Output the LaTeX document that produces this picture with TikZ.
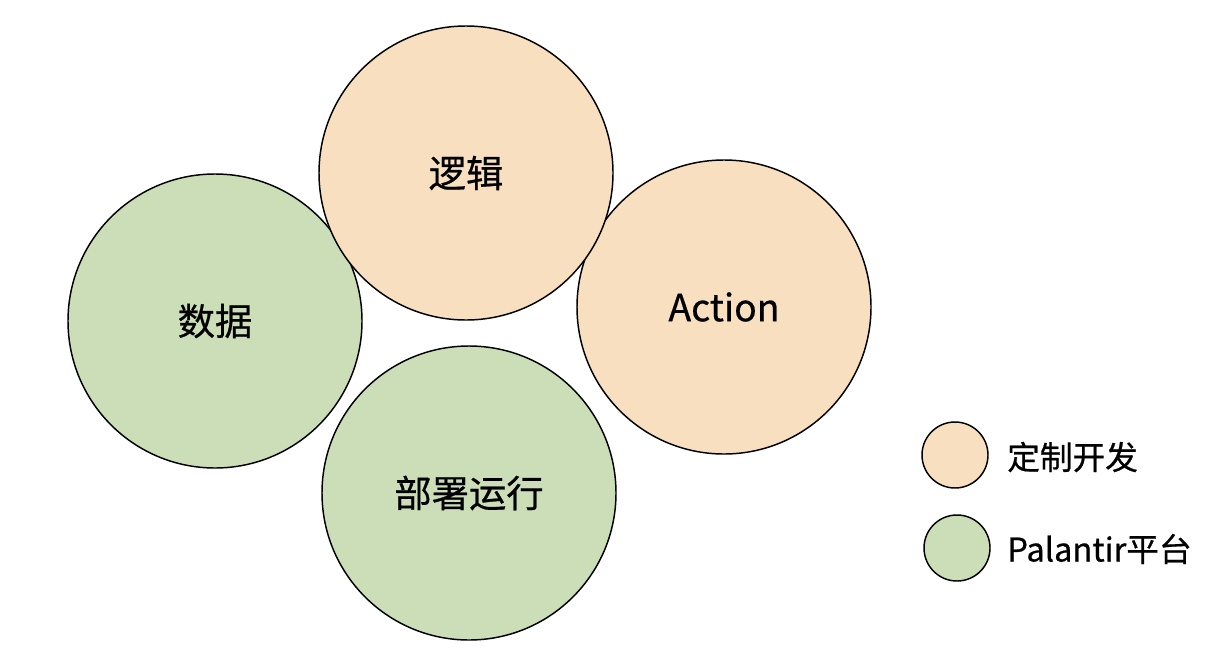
\documentclass[tikz,border=0pt]{standalone}
\usepackage{fontspec}
\setmainfont[FakeBold=0.6,AutoFakeBold=0.6]{Noto Sans CJK SC}
\definecolor{devorange}{HTML}{F8DFC0}
\definecolor{platgreen}{HTML}{CBDEB8}
\begin{document}
\begin{tikzpicture}[x=0.75pt,y=-0.75pt,
  bigc/.style={circle,draw=black,line width=1.1pt,minimum size=294*0.75pt,inner sep=0pt,font=\fontsize{28}{32}\selectfont\bfseries},
  smallc/.style={circle,draw=black,line width=1.1pt,minimum size=66*0.75pt,inner sep=0pt},
  legtext/.style={anchor=west,inner sep=0pt,font=\fontsize{24.5}{28}\selectfont\bfseries}]
\useasboundingbox (0,0) rectangle (1224,664);
\node[bigc,fill=platgreen] (data) at (215,321) {数据};
\node[bigc,fill=devorange] (action) at (724,307) {Action};
\node[bigc,fill=platgreen] (deploy) at (469,493) {部署运行};
\node[bigc,fill=devorange] (logic) at (466,173) {逻辑};
\node[smallc,fill=devorange] (leg1) at (955,455) {};
\node[smallc,fill=platgreen] (leg2) at (957,548) {};
\node[legtext] (leg1t) at (1007,457) {定制开发};
\node[legtext] (leg2t) at (1007,549) {Palantir平台};
\end{tikzpicture}
\end{document}
